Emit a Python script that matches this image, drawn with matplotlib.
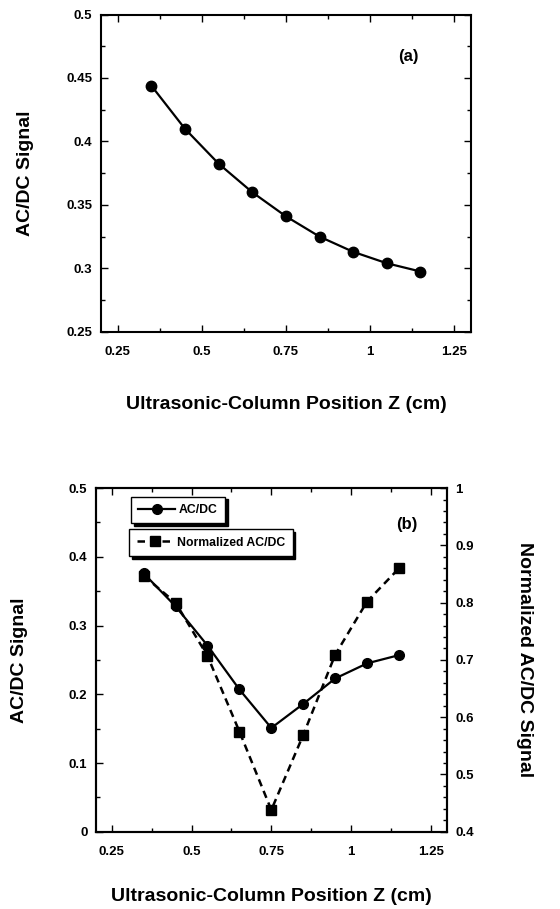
"""Sinal AC/DC em função da posição da coluna ultrassônica (painéis a e b)."""

import matplotlib

matplotlib.use("Agg")
import matplotlib.pyplot as plt
from matplotlib.ticker import MultipleLocator, FuncFormatter

plt.rcParams["font.family"] = ["Liberation Sans", "DejaVu Sans"]
plt.rcParams["font.weight"] = "bold"

# Painel (a)
z_a = [0.35, 0.45, 0.55, 0.65, 0.75, 0.85, 0.95, 1.05, 1.15]
acdc_a = [0.444, 0.410, 0.3825, 0.360, 0.341, 0.325, 0.313, 0.304, 0.2975]

# Painel (b)
z_b = [0.35, 0.45, 0.55, 0.65, 0.75, 0.85, 0.95, 1.05, 1.15]
acdc_b = [0.376, 0.328, 0.271, 0.207, 0.151, 0.186, 0.223, 0.245, 0.257]
norm_b = [0.847, 0.800, 0.707, 0.575, 0.438, 0.569, 0.709, 0.802, 0.860]

xticks = [0.25, 0.5, 0.75, 1.0, 1.25]
TICK_FS = 9.5
LABEL_FS = 14


def fmt(v, _pos=None):
    return f"{v:.2f}".rstrip("0").rstrip(".")


def style_axis(ax, right=True):
    ax.tick_params(which="both", direction="in", top=True, right=right,
                   labelsize=TICK_FS, width=1.0)
    ax.tick_params(which="major", length=5)
    ax.tick_params(which="minor", length=3)
    ax.tick_params(axis="x", pad=10)
    ax.tick_params(axis="y", pad=6)
    for sp in ax.spines.values():
        sp.set_linewidth(1.5)
    ax.xaxis.set_major_formatter(FuncFormatter(fmt))
    ax.yaxis.set_major_formatter(FuncFormatter(fmt))


fig = plt.figure(figsize=(5.6, 9.09), dpi=100)

# ---- (a)
ax = fig.add_axes([0.180, 0.635, 0.661, 0.349])
ax.plot(z_a, acdc_a, "-o", color="black", lw=1.6, ms=7.5)
ax.set_xlim(0.2, 1.3)
ax.set_ylim(0.25, 0.5)
ax.set_xticks(xticks)
ax.xaxis.set_minor_locator(MultipleLocator(0.125))
ax.yaxis.set_major_locator(MultipleLocator(0.05))
ax.yaxis.set_minor_locator(MultipleLocator(0.025))
style_axis(ax)
ax.set_ylabel("AC/DC Signal", fontsize=LABEL_FS, fontweight="bold")
ax.yaxis.set_label_coords(-0.181, 0.5)
ax.set_xlabel("Ultrasonic-Column Position Z (cm)", fontsize=LABEL_FS,
              fontweight="bold")
ax.xaxis.set_label_coords(0.5, -0.202)
ax.text(0.83, 0.867, "(a)", transform=ax.transAxes, fontsize=12,
        fontweight="bold", ha="center", va="center")

# ---- (b)
ax1 = fig.add_axes([0.171, 0.085, 0.627, 0.378])
ax2 = ax1.twinx()
l1, = ax1.plot(z_b, acdc_b, "-o", color="black", lw=1.6, ms=7,
               label="AC/DC")
l2, = ax2.plot(z_b, norm_b, "--s", color="black", lw=1.8, ms=6.5,
               dashes=(3, 2), label="Normalized AC/DC")
ax1.set_xlim(0.2, 1.3)
ax1.set_ylim(0, 0.5)
ax2.set_ylim(0.4, 1.0)
ax1.set_xticks(xticks)
ax1.xaxis.set_minor_locator(MultipleLocator(0.125))
ax1.yaxis.set_major_locator(MultipleLocator(0.1))
ax1.yaxis.set_minor_locator(MultipleLocator(0.05))
ax2.yaxis.set_major_locator(MultipleLocator(0.1))
ax2.yaxis.set_minor_locator(MultipleLocator(0.02))
style_axis(ax1, right=False)
ax2.tick_params(which="both", direction="in", labelsize=TICK_FS, width=1.0,
                pad=6)
ax2.tick_params(which="major", length=5)
ax2.tick_params(which="minor", length=3)
ax2.yaxis.set_major_formatter(FuncFormatter(fmt))
for sp in ax2.spines.values():
    sp.set_linewidth(1.5)

ax1.set_ylabel("AC/DC Signal", fontsize=LABEL_FS, fontweight="bold")
ax1.yaxis.set_label_coords(-0.193, 0.5)
ax2.set_ylabel("Normalized AC/DC Signal", fontsize=LABEL_FS, fontweight="bold",
               rotation=270, va="center")
ax2.yaxis.set_label_coords(1.22, 0.5)
ax1.set_xlabel("Ultrasonic-Column Position Z (cm)", fontsize=LABEL_FS,
               fontweight="bold")
ax1.xaxis.set_label_coords(0.5, -0.165)
ax1.text(0.887, 0.893, "(b)", transform=ax1.transAxes, fontsize=12,
         fontweight="bold", ha="center", va="center")

shadow = {"color": "black", "alpha": 1.0}
leg_kw = dict(loc="upper left", fancybox=False, shadow=shadow, framealpha=1,
              edgecolor="black", fontsize=8.8, handlelength=3.0,
              borderpad=0.6, handletextpad=0.3)
leg1 = ax2.legend(handles=[l1], bbox_to_anchor=(0.083, 0.993), **leg_kw)
leg1.get_frame().set_linewidth(1.0)
ax2.add_artist(leg1)
leg2 = ax2.legend(handles=[l2], bbox_to_anchor=(0.078, 0.898), **leg_kw)
leg2.get_frame().set_linewidth(1.0)

fig.savefig("out.png", dpi=100)
plt.close(fig)
